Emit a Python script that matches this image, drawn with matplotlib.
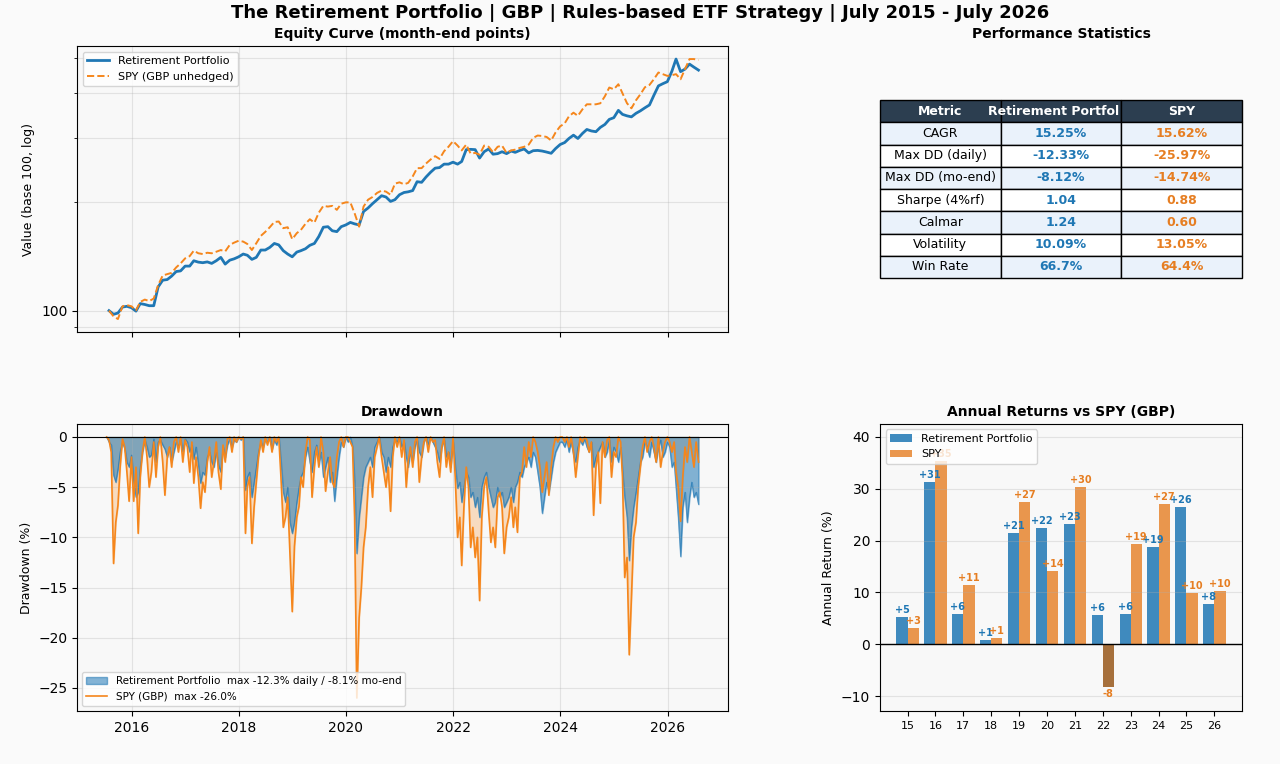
import numpy as np
import pandas as pd
import matplotlib
matplotlib.use("Agg")
import matplotlib.pyplot as plt
import matplotlib.dates as mdates
from matplotlib.ticker import ScalarFormatter, NullFormatter

BLUE = "#1f77b4"
ORANGE = "#e67e22"
LINE_ORANGE = "#f5861c"

# Month-end equity values (base 100), Jul 2015 .. Jul 2026
pf_equity = [
    100.0, 97.7, 98.5, 102.3, 102.8, 101.9,
    99.7, 104.6, 104.0, 103.2, 103.2, 116.3, 121.4, 121.9, 124.6, 128.3, 128.8, 132.8,
    132.8, 137.4, 136.2, 135.7, 136.4, 135.1, 137.4, 140.4, 134.5, 137.9, 139.1, 140.9,
    143.4, 142.3, 138.6, 140.4, 147.1, 147.1, 149.6, 153.4, 152.0, 146.5, 143.4, 140.9,
    145.2, 146.5, 148.3, 151.6, 153.4, 160.3, 170.1, 170.7, 166.3, 165.4, 170.7, 172.6,
    175.4, 173.8, 172.6, 188.0, 192.3, 197.6, 202.7, 207.9, 206.2, 200.5, 202.7, 209.2,
    212.2, 213.1, 214.8, 227.3, 226.4, 234.2, 241.4, 247.8, 248.7, 254.2, 254.2, 257.4,
    254.2, 258.5, 278.8, 279.3, 278.8, 264.2, 275.1, 280.0, 270.8, 271.8, 275.1, 271.8,
    276.3, 274.0, 277.4, 280.0, 273.0, 276.9, 277.4, 276.3, 274.5, 272.4, 280.7, 288.0,
    291.7, 299.3, 305.7, 299.3, 309.0, 317.0, 314.0, 312.5, 321.2, 327.3, 338.0, 341.7,
    358.0, 349.0, 345.7, 343.5, 351.3, 356.9, 363.9, 370.5, 394.0, 418.4, 424.3, 429.8,
    459.6, 496.3, 458.1, 465.5, 480.6, 471.4, 462.6,
]
spy_equity = [
    100.0, 96.4, 94.8, 102.8, 103.6, 102.8,
    100.2, 105.7, 107.3, 106.3, 108.0, 117.6, 125.1, 126.2, 127.2, 131.7, 135.1, 139.5,
    141.5, 146.5, 144.1, 143.4, 144.6, 144.1, 145.5, 147.1, 145.8, 152.0, 154.2, 156.1,
    155.2, 152.9, 147.1, 153.6, 161.0, 165.1, 170.1, 175.9, 176.4, 169.1, 170.1, 157.6,
    163.8, 167.2, 173.8, 179.0, 175.1, 186.6, 194.9, 194.0, 194.9, 190.0, 197.6, 199.3,
    199.3, 186.0, 170.7, 194.0, 202.7, 206.2, 211.6, 214.8, 213.4, 209.2, 224.5, 226.4,
    223.6, 225.6, 235.0, 247.8, 247.8, 255.2, 261.8, 267.5, 262.8, 276.0, 283.9, 294.3,
    286.1, 277.4, 287.9, 271.8, 273.0, 270.0, 286.1, 283.9, 274.0, 283.9, 286.1, 273.0,
    277.4, 278.8, 281.9, 283.9, 287.9, 300.4, 305.0, 304.1, 302.2, 295.5, 311.1, 323.3,
    329.6, 344.6, 352.8, 345.7, 360.3, 372.1, 372.1, 372.1, 374.5, 391.6, 414.0, 409.5,
    422.8, 399.2, 374.5, 362.7, 381.7, 396.6, 414.8, 420.9, 436.5, 455.6, 450.8, 445.9,
    447.9, 450.8, 436.5, 465.5, 496.3, 496.3, 493.2,
]

# Drawdown (%), two readings per month (mid-month, month-end)
pf_dd = [
    0, -0.5, -0.8, -3.8, -4.5, -3.2, -1.5, -0.5, -1.2, -2.5, -3.0, -1.8,
    -4.5, -6.0, -5.5, -3.0, -1.5, -0.3, -1.0, -2.0, -1.8, -0.2, -2.5, -0.5,
    -0.3, -0.8, -1.2, -2.0, -1.0, -2.5, -1.5, -0.5, -1.0, -0.3, -1.5, -0.2,
    -0.5, -1.5, -0.8, -2.2, -1.0, -2.8, -4.6, -3.5, -3.8, -2.0, -1.5, -2.5,
    -3.0, -1.5, -2.8, -3.5, -1.0, -2.0, -0.8, -0.2, -1.0, -0.3, -0.5, 0,
    -0.3, 0, -5.3, -4.0, -3.5, -6.0, -4.5, -3.0, -1.5, -0.5, -1.0, -0.3,
    -0.5, 0, -1.2, -0.3, -0.8, 0, -2.5, -5.5, -6.5, -5.0, -8.5, -9.6,
    -8.5, -6.5, -5.0, -4.0, -3.5, -2.0, -1.0, -2.5, -3.5, -1.5, -0.8, -2.8,
    -1.5, -4.0, -3.0, -2.0, -4.5, -3.5, -6.4, -4.0, -2.0, -0.5, -1.0, 0,
    -0.5, 0, -1.0, -4.5, -11.6, -8.0, -6.0, -4.0, -3.0, -2.5, -2.0, -3.0,
    -1.0, -0.5, 0, -1.5, -2.0, -3.5, -2.0, -3.0, -1.0, -0.3, -0.5, 0,
    -1.0, -0.5, -2.0, -3.0, -1.5, -2.5, -1.0, -0.3, -1.5, -2.0, -0.5, 0,
    -0.8, 0, -0.5, -1.0, -1.5, -2.5, -1.0, -0.3, -2.0, -1.5, -3.0, -0.5,
    -3.0, -5.1, -4.5, -6.5, -5.0, -3.5, -4.0, -6.0, -5.5, -7.0, -6.0, -8.0,
    -5.0, -4.0, -3.5, -5.0, -6.0, -7.0, -6.5, -5.0, -6.0, -5.5, -7.0, -6.5,
    -6.0, -5.0, -6.5, -5.0, -4.5, -3.5, -4.0, -3.0, -2.5, -2.0, -3.0, -1.5,
    -2.0, -3.5, -5.0, -7.6, -6.0, -4.5, -5.5, -4.0, -2.5, -1.5, -1.0, -0.5,
    -0.5, -1.0, -0.3, -1.5, -0.5, -1.8, -2.5, -1.0, -0.3, -0.8, -0.2, -1.0,
    -1.5, -0.5, -3.0, -2.0, -1.5, -1.0, -0.5, -2.0, -1.5, -0.3, -2.5, -1.0,
    -1.5, -2.5, -1.0, -3.5, -6.0, -8.0, -12.3, -9.0, -7.0, -5.5, -4.0, -2.5,
    -2.0, -0.5, -1.0, -2.0, -0.5, -1.5, -2.5, -1.0, -0.3, -2.0, -1.5, -0.5,
    -1.0, -3.0, -2.5, -5.0, -8.0, -11.9, -7.0, -5.5, -8.5, -6.0, -4.5, -6.0, -5.5, -6.7,
]
spy_dd = [
    0, -0.3, -1.5, -12.6, -8.5, -6.8, -3.0, -0.2, -1.0, -3.5, -6.4, -2.0,
    -6.4, -3.0, -9.6, -4.0, -1.5, 0, -2.0, -5.0, -3.5, -0.5, -4.0, -1.0,
    0, -2.5, -5.8, -2.0, -1.0, -3.0, -0.5, 0, -1.5, 0, -2.5, -0.3,
    -1.0, -3.5, -0.5, -4.6, -2.0, -4.0, -7.1, -4.5, -5.5, -2.5, -1.0, -4.0,
    -2.5, -0.5, -3.5, -5.2, -0.8, -2.5, -0.2, 0, -1.5, 0, -0.5, 0,
    -0.2, 0, -9.6, -5.0, -4.0, -10.6, -7.0, -4.5, -2.0, -0.3, -1.5, 0,
    -0.8, 0, -1.5, 0, -0.5, 0, -4.0, -9.0, -8.0, -6.0, -11.5, -17.4,
    -10.9, -8.0, -6.9, -4.0, -5.0, -1.5, 0, -0.3, -6.0, -3.0, -1.0, -3.0,
    0, -1.5, -5.4, -3.5, -2.0, -4.5, -5.0, -2.0, -0.5, 0, -1.0, 0,
    0, -0.5, -1.0, -8.0, -26.0, -18.0, -15.0, -11.0, -9.0, -5.0, -3.0, -6.0,
    -2.0, -1.0, 0, -2.0, -3.5, -5.0, -3.0, -7.4, -2.0, 0, -1.0, 0,
    -2.0, -0.3, -5.0, -2.5, -1.0, -3.0, -0.5, 0, -4.5, -2.0, -0.5, 0,
    -1.5, 0, -0.5, -0.3, -2.5, -4.0, -1.0, 0, -3.0, -1.5, -3.5, 0,
    -4.0, -10.0, -8.0, -12.8, -7.0, -3.0, -5.0, -11.0, -9.0, -12.0, -10.0, -16.3,
    -8.0, -5.0, -4.0, -7.5, -10.5, -9.0, -11.0, -6.0, -5.5, -7.0, -11.6, -9.0,
    -8.0, -6.0, -9.0, -7.0, -9.5, -4.0, -3.5, -1.0, -3.0, -0.5, -2.0, 0,
    -0.5, -1.5, -3.0, -5.5, -4.0, -2.5, -5.8, -3.0, -1.0, 0, -0.5, 0,
    0, -0.5, 0, -1.0, 0, -1.5, -4.0, -2.0, 0, -0.5, 0, -0.3,
    -1.5, -0.5, -7.8, -3.0, -1.5, -6.6, -0.5, -2.0, -0.3, 0, -4.0, -1.5,
    -2.0, 0, -0.5, -4.0, -14.0, -12.0, -21.7, -16.0, -10.0, -8.5, -5.0, -3.0,
    -1.0, 0, -1.5, -0.5, 0, -1.0, -2.5, 0, -3.0, -1.5, -0.5, 0,
    -0.5, -1.5, -0.5, -3.5, -5.0, -8.4, -4.0, -1.0, -2.5, 0, -1.5, -3.0, -0.5, -2.5,
]

# Calendar-year returns (%)
years = ["15", "16", "17", "18", "19", "20", "21", "22", "23", "24", "25", "26"]
pf_annual = [5.3, 31.2, 5.8, 0.8, 21.4, 22.4, 23.1, 5.6, 5.8, 18.7, 26.4, 7.8]
spy_annual = [3.1, 35.4, 11.4, 1.2, 27.4, 14.1, 30.3, -8.3, 19.4, 27.0, 9.9, 10.3]

# Stats table
metrics = ["CAGR", "Max DD (daily)", "Max DD (mo-end)", "Sharpe (4%rf)", "Calmar", "Volatility", "Win Rate"]
pf_stats = ["15.25%", "-12.33%", "-8.12%", "1.04", "1.24", "10.09%", "66.7%"]
spy_stats = ["15.62%", "-25.97%", "-14.74%", "0.88", "0.60", "13.05%", "64.4%"]

month_starts = pd.date_range("2015-07-01", periods=len(pf_equity), freq="MS")
month_ends = month_starts + pd.offsets.MonthEnd(0)
mid_months = month_starts + pd.Timedelta(days=14)
dd_dates = pd.DatetimeIndex(np.column_stack([mid_months.values, month_ends.values]).ravel())

fig = plt.figure(figsize=(12.8, 7.64), dpi=100, facecolor="#fafafa")
ax_eq = fig.add_axes([0.0602, 0.5654, 0.5086, 0.3743])
ax_dd = fig.add_axes([0.0602, 0.0694, 0.5086, 0.3757], sharex=ax_eq)
ax_tb = fig.add_axes([0.6875, 0.5654, 0.2828, 0.3743])
ax_bar = fig.add_axes([0.6875, 0.0694, 0.2828, 0.3757])
for ax in (ax_eq, ax_dd, ax_bar):
    ax.set_facecolor("#f8f8f8")

fig.suptitle("The Retirement Portfolio | GBP | Rules-based ETF Strategy | July 2015 - July 2026",
             fontsize=13, fontweight="bold", y=0.995)

# Equity curve
ax_eq.plot(month_ends, pf_equity, color=BLUE, lw=2.0, label="Retirement Portfolio")
ax_eq.plot(month_ends, spy_equity, color=LINE_ORANGE, lw=1.4, ls="--", label="SPY (GBP unhedged)")
ax_eq.set_yscale("log")
ax_eq.yaxis.set_major_formatter(ScalarFormatter())
ax_eq.yaxis.set_minor_formatter(NullFormatter())
ax_eq.set_ylabel("Value (base 100, log)", fontsize=9)
ax_eq.set_title("Equity Curve (month-end points)", fontsize=10, fontweight="bold")
ax_eq.grid(True, which="both", alpha=0.3)
ax_eq.legend(loc="upper left", fontsize=8)
plt.setp(ax_eq.get_xticklabels(), visible=False)

# Drawdown
ax_dd.fill_between(dd_dates, spy_dd, 0, color=LINE_ORANGE, alpha=0.25)
ax_dd.fill_between(dd_dates, pf_dd, 0, color=BLUE, alpha=0.55,
                   label="Retirement Portfolio  max -12.3% daily / -8.1% mo-end")
ax_dd.plot(dd_dates, pf_dd, color=BLUE, lw=0.7, alpha=0.6)
ax_dd.plot(dd_dates, spy_dd, color=LINE_ORANGE, lw=1.2, label="SPY (GBP)  max -26.0%")
ax_dd.axhline(0, color="black", lw=0.8)
ax_dd.set_ylabel("Drawdown (%)", fontsize=9)
ax_dd.set_title("Drawdown", fontsize=10, fontweight="bold")
ax_dd.grid(True, alpha=0.3)
ax_dd.legend(loc="lower left", fontsize=7.5)
ax_dd.xaxis.set_major_locator(mdates.YearLocator(2))
ax_dd.xaxis.set_major_formatter(mdates.DateFormatter("%Y"))

# Stats table
ax_tb.axis("off")
ax_tb.set_title("Performance Statistics", fontsize=10, fontweight="bold")
tbl = ax_tb.table(cellText=[list(r) for r in zip(metrics, pf_stats, spy_stats)],
                  colLabels=["Metric", "Retirement Portfol", "SPY"],
                  cellLoc="center", bbox=[0, 0.189, 1, 0.622])
tbl.auto_set_font_size(False)
tbl.set_fontsize(9)
for (r, c), cell in tbl.get_celld().items():
    cell.set_edgecolor("black")
    if r == 0:
        cell.set_facecolor("#2c3e50")
        cell.get_text().set_color("white")
        cell.get_text().set_fontweight("bold")
    else:
        cell.set_facecolor("#eaf2fb" if r % 2 == 1 else "white")
        if c == 1:
            cell.get_text().set_color(BLUE)
            cell.get_text().set_fontweight("bold")
        elif c == 2:
            cell.get_text().set_color(ORANGE)
            cell.get_text().set_fontweight("bold")
# long header spills left, keep its last letter inside the cell
tbl[0, 1].get_text().set_horizontalalignment("right")
tbl[0, 1].PAD = 0.02

# Annual returns
x = np.arange(len(years))
w = 0.4
ax_bar.bar(x - w / 2, pf_annual, w, color=BLUE, alpha=0.85, label="Retirement Portfolio")
spy_colors = [ORANGE if v >= 0 else "#924e0d" for v in spy_annual]
ax_bar.bar(x + w / 2, spy_annual, w, color=spy_colors, alpha=0.8, label="SPY")
for xi, v in zip(x - w / 2, pf_annual):
    ax_bar.text(xi, v + 0.4 if v >= 0 else v - 0.4, f"{v:+.0f}", ha="center",
                va="bottom" if v >= 0 else "top", fontsize=7, fontweight="bold", color=BLUE)
for xi, v in zip(x + w / 2, spy_annual):
    ax_bar.text(xi, v + 0.4 if v >= 0 else v - 0.4, f"{v:+.0f}", ha="center",
                va="bottom" if v >= 0 else "top", fontsize=7, fontweight="bold", color=ORANGE)
ax_bar.axhline(0, color="black", lw=1)
ax_bar.set_xticks(x)
ax_bar.set_xticklabels(years, fontsize=8)
all_vals = pf_annual + spy_annual
ax_bar.set_ylim(min(all_vals) * 1.55, max(all_vals) * 1.2)
ax_bar.set_ylabel("Annual Return (%)", fontsize=9)
ax_bar.set_title("Annual Returns vs SPY (GBP)", fontsize=10, fontweight="bold")
ax_bar.grid(True, axis="y", alpha=0.3)
ax_bar.legend(loc="upper left", fontsize=8)

fig.savefig("out.png", dpi=100, facecolor=fig.get_facecolor())
